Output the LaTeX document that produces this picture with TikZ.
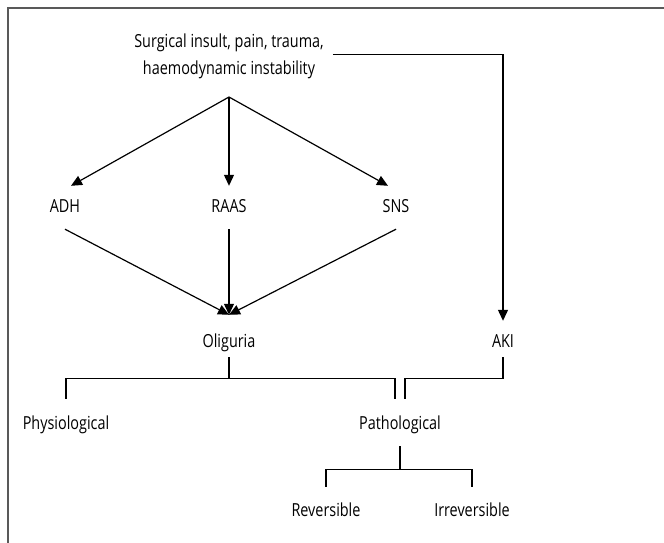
\documentclass[tikz,border=0pt]{standalone}
\usepackage{fontspec}
\setmainfont[FakeStretch=0.8]{Open Sans}
\usetikzlibrary{arrows.meta}

\tikzset{
    lbl/.style={font=\fontsize{18}{27}\selectfont, text height=13pt, text depth=4pt,
                inner xsep=0pt, inner ysep=13pt, anchor=base},
    wire/.style={line width=1.2pt},
    frame/.style={draw=black!65, line width=2pt}
}

\begin{document}
\begin{tikzpicture}[
                            x=1pt, y=-1pt,
                            >={Triangle[length=11pt,width=10pt]}
                        ]
                        \useasboundingbox (0,0) rectangle (664,543);
                        \draw [frame] (8,543) -- (8,8) -- (664,8);

                        % Blocks
                        \node [font=\fontsize{18}{27}\selectfont, align=center, inner sep=0pt, anchor=north] (src) at (229,34)
                            {Surgical insult, pain, trauma,\\haemodynamic instability};
                        \coordinate (fork) at (229,97);
                        \node [lbl] (adh) at (65,212) {ADH};
                        \node [lbl] (raas) at (229,212) {RAAS};
                        \node [lbl] (sns) at (396,212) {SNS};
                        \node [lbl] (olig) at (229,347) {Oliguria};
                        \node [lbl] (aki) at (503,347) {AKI};
                        \node [lbl] (phys) at (66,429) {Physiological};
                        \node [lbl] (path) at (400,429) {Pathological};
                        \node [lbl] (rev) at (326,516) {Reversible};
                        \node [lbl] (irrev) at (472,516) {Irreversible};
                        \coordinate (sink) at ([yshift=6pt]olig.north);
                        \coordinate (pjoin) at ([xshift=5pt,yshift=4pt]path.north);

                        % Connections
                        \draw [wire,->] (fork) -- ([xshift=6pt]adh.north);
                        \draw [wire,->] (fork) -- (raas.north);
                        \draw [wire,->] (fork) -- ([xshift=-8pt]sns.north);
                        \draw [wire,->] (adh.south) -- (sink);
                        \draw [wire,->] (raas.south) -- (sink);
                        \draw [wire,->] (sns.south) -- (sink);
                        \draw [wire,->] ([xshift=9pt,yshift=2pt]src.east) -| (aki.north);

                        % Brackets
                        \draw [wire] ([yshift=7pt]olig.south) -- ++(0,21) coordinate (obar);
                        \draw [wire] ([yshift=4pt]phys.north) |- (obar) -| ([xshift=-5pt,yshift=4pt]path.north);
                        \draw [wire] ([yshift=7pt]aki.south) |- (pjoin |- obar) -- (pjoin);
                        \draw [wire] (path.south) -- ++(0,23) coordinate (pbar);
                        \draw [wire] ([yshift=3pt]rev.north) |- (pbar) -| ([yshift=3pt]irrev.north);
                    \end{tikzpicture}
\end{document}
